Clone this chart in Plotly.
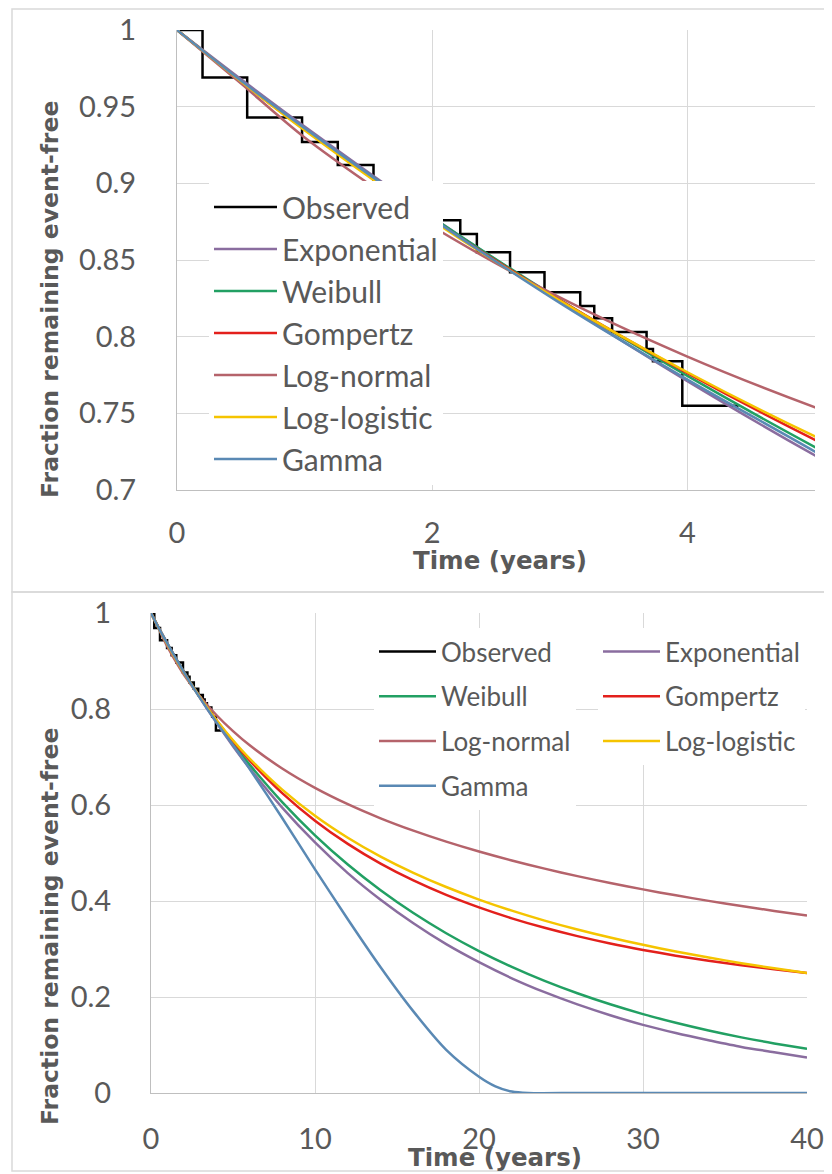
import plotly.graph_objects as go

# page is 832x1174; the html body adds an 8px margin, so the figure is 8px smaller each way
PAGE_OFF = 8
W, H = 824, 1166

# ---------------- data ----------------
series_names = ["Observed", "Exponential", "Weibull", "Gompertz", "Log-normal", "Log-logistic", "Gamma"]

obs_t = [0, 0.2, 0.55, 0.98, 1.26, 1.54, 1.95, 2.22, 2.35, 2.61, 2.88, 3.16, 3.27, 3.41, 3.68, 3.73, 3.96, 4.4]
obs_s = [1, 0.969, 0.943, 0.927, 0.912, 0.897, 0.876, 0.867, 0.855, 0.842, 0.829, 0.820, 0.812, 0.803, 0.792, 0.784, 0.755, 0.755]

model_t = [0, 0.5, 1, 2, 3, 4, 5, 6, 8, 10, 12, 14, 16, 18, 20, 22, 24, 26, 28, 30, 32, 34, 36, 38, 40]
exponential = [1, 0.968, 0.937, 0.878, 0.823, 0.771, 0.7225, 0.677, 0.5945, 0.522, 0.458, 0.4025, 0.3535, 0.310,
               0.2725, 0.239, 0.210, 0.1845, 0.162, 0.142, 0.125, 0.110, 0.096, 0.085, 0.074]
weibull = [1, 0.9665, 0.9355, 0.8777, 0.8241, 0.7744, 0.728, 0.6846, 0.606, 0.5369, 0.476, 0.4224, 0.3749, 0.3329,
           0.2957, 0.2628, 0.2336, 0.2078, 0.1848, 0.1644, 0.1463, 0.1302, 0.1159, 0.1033, 0.0919]
gompertz = [1, 0.9667, 0.9351, 0.8766, 0.8238, 0.7762, 0.7327, 0.6933, 0.6248, 0.5674, 0.519, 0.4779, 0.4428, 0.4126,
            0.3866, 0.3639, 0.3441, 0.3268, 0.3115, 0.2981, 0.2861, 0.2755, 0.2661, 0.2576, 0.25]
lognormal = [1, 0.9652, 0.9299, 0.872, 0.8256, 0.787, 0.7539, 0.7249, 0.676, 0.6357, 0.6017, 0.5723, 0.5465, 0.5236,
             0.503, 0.4844, 0.4674, 0.4518, 0.4375, 0.4242, 0.4118, 0.4003, 0.3895, 0.3794, 0.3699]
loglogistic = [1, 0.9666, 0.9346, 0.8758, 0.8235, 0.7768, 0.7349, 0.6972, 0.632, 0.5777, 0.5319, 0.4926, 0.4587, 0.4291,
               0.403, 0.3799, 0.3592, 0.3406, 0.3239, 0.3087, 0.2948, 0.2822, 0.2705, 0.2598, 0.2499]
gamma_t = [0, 0.5, 1, 2, 3, 4, 5, 6, 8, 10, 12, 14, 16, 18, 20, 21, 22, 23, 26, 30, 35, 40]
gamma = [1, 0.967, 0.936, 0.877, 0.822, 0.772, 0.725, 0.676, 0.573, 0.466, 0.362, 0.262, 0.170, 0.090, 0.034,
         0.014, 0.003, 0, 0, 0, 0, 0]

top_y_ticks = [0.7, 0.75, 0.8, 0.85, 0.9, 0.95, 1]
top_y_labels = ["0.7", "0.75", "0.8", "0.85", "0.9", "0.95", "1"]
top_x_ticks = [0, 2, 4]
top_x_labels = ["0", "2", "4"]
bot_y_ticks = [0, 0.2, 0.4, 0.6, 0.8, 1]
bot_y_labels = ["0", "0.2", "0.4", "0.6", "0.8", "1"]
bot_x_ticks = [0, 10, 20, 30, 40]
bot_x_labels = ["0", "10", "20", "30", "40"]

y_title = "Fraction remaining event-free"
x_title = "Time (years)"

# ---------------- style ----------------
colors = {
    "Observed": "#000000",
    "Exponential": "#8a6d9f",
    "Weibull": "#22a063",
    "Gompertz": "#e3201c",
    "Log-normal": "#b5636b",
    "Log-logistic": "#f5c400",
    "Gamma": "#5a89b4",
}
FONT = "Lato"
TITLE_FONT = "DejaVu Sans"
TXT = "#595959"
GRID = "#d9d9d9"


def px_x(p):
    return (p - PAGE_OFF) / W


def px_y(p):
    return 1 - (p - PAGE_OFF) / H


series = {
    "Observed": (obs_t, obs_s),
    "Exponential": (model_t, exponential),
    "Weibull": (model_t, weibull),
    "Gompertz": (model_t, gompertz),
    "Log-normal": (model_t, lognormal),
    "Log-logistic": (model_t, loglogistic),
    "Gamma": (gamma_t, gamma),
}

col1 = ["Observed", "Weibull", "Log-normal", "Gamma"]

fig = go.Figure()
for panel in ("top", "bot"):
    xa, ya = ("x", "y") if panel == "top" else ("x2", "y2")
    for name in series_names:
        t, s = series[name]
        if panel == "top":
            leg = "legend"
        else:
            leg = "legend2" if name in col1 else "legend3"
        fig.add_trace(go.Scatter(
            x=t, y=s, name=name, mode="lines",
            line=dict(color=colors[name], width=2.5,
                      shape="hv" if name == "Observed" else "spline",
                      smoothing=0.8 if name != "Observed" else None),
            xaxis=xa, yaxis=ya, legend=leg, legendgroup=panel + name,
            hoverinfo="skip",
        ))

axis_common = dict(showgrid=True, gridcolor=GRID, gridwidth=1, showline=True, linecolor="#bfbfbf",
                   linewidth=1, zeroline=False, ticks="outside", tickcolor="rgba(0,0,0,0)",
                   tickfont=dict(family=FONT, size=29, color=TXT),
                   tickmode="array", fixedrange=True, automargin=False)

legend_common = dict(xanchor="left", yanchor="top", bgcolor="white", traceorder="grouped", borderwidth=0)

fig.update_layout(
    width=W, height=H,
    margin=dict(l=0, r=0, t=0, b=0, autoexpand=False),
    paper_bgcolor="white", plot_bgcolor="white",
    showlegend=True,
    xaxis=dict(domain=[px_x(177), px_x(815)], range=[0, 5], anchor="y", ticklen=17,
               tickvals=top_x_ticks, ticktext=top_x_labels, **axis_common),
    yaxis=dict(domain=[px_y(490), px_y(30)], range=[0.7, 1], anchor="x", ticklen=34,
               tickvals=top_y_ticks, ticktext=top_y_labels, **axis_common),
    xaxis2=dict(domain=[px_x(151), px_x(807)], range=[0, 40], anchor="y2", ticklen=20,
                tickvals=bot_x_ticks, ticktext=bot_x_labels, **axis_common),
    yaxis2=dict(domain=[px_y(1093), px_y(613)], range=[0, 1], anchor="x2", ticklen=33,
                tickvals=bot_y_ticks, ticktext=bot_y_labels, **axis_common),
    legend=dict(x=px_x(209), y=px_y(181), font=dict(family=FONT, size=30, color=TXT),
                itemwidth=63, tracegroupgap=0, **legend_common),
    legend2=dict(x=px_x(374), y=px_y(628), font=dict(family=FONT, size=26, color=TXT),
                 itemwidth=57, tracegroupgap=8, **legend_common),
    legend3=dict(x=px_x(598), y=px_y(628), font=dict(family=FONT, size=26, color=TXT),
                 itemwidth=57, tracegroupgap=8, **legend_common),
    shapes=[
        dict(type="rect", xref="paper", yref="paper", x0=px_x(12), x1=px_x(845), y0=px_y(592), y1=px_y(9),
             line=dict(color=GRID, width=1.5), fillcolor="rgba(0,0,0,0)", layer="below"),
        dict(type="rect", xref="paper", yref="paper", x0=px_x(12), x1=px_x(845), y0=px_y(1171), y1=px_y(592),
             line=dict(color=GRID, width=1.5), fillcolor="rgba(0,0,0,0)", layer="below"),
    ],
    annotations=[
        dict(text=y_title, xref="paper", yref="paper", x=px_x(50), y=px_y(300), textangle=-90,
             xanchor="center", yanchor="middle", showarrow=False,
             font=dict(family=TITLE_FONT, size=23.5, color=TXT, weight="bold")),
        dict(text=y_title, xref="paper", yref="paper", x=px_x(50), y=px_y(927), textangle=-90,
             xanchor="center", yanchor="middle", showarrow=False,
             font=dict(family=TITLE_FONT, size=23.5, color=TXT, weight="bold")),
        dict(text=x_title, xref="paper", yref="paper", x=px_x(500), y=px_y(560),
             xanchor="center", yanchor="middle", showarrow=False,
             font=dict(family=TITLE_FONT, size=24.5, color=TXT, weight="bold")),
        dict(text=x_title, xref="paper", yref="paper", x=px_x(495), y=px_y(1157),
             xanchor="center", yanchor="middle", showarrow=False,
             font=dict(family=TITLE_FONT, size=24.5, color=TXT, weight="bold")),
    ],
)

fig.write_html("out.html")
